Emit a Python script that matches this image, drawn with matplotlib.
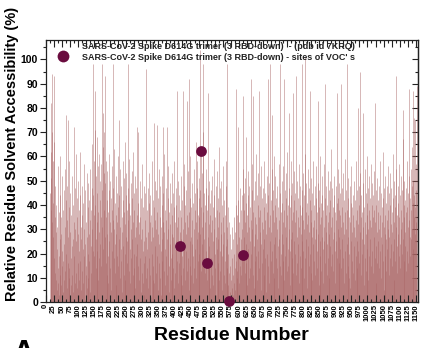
import matplotlib
matplotlib.use("Agg")           # headless
import matplotlib.pyplot as plt
from matplotlib.ticker import MultipleLocator
import numpy as np

# relative residue solvent accessibility (%), in residue blocks
rsa_014_313 = [
    45, 62, 38, 82, 51, 70, 94, 33, 58, 27, 41, 66, 93, 18, 35, 12, 48, 29, 9, 40,
    22, 5, 31, 14, 56, 8, 37, 19, 3, 44, 26, 11, 60, 35, 7, 28, 15, 52, 21, 4,
    38, 17, 46, 9, 24, 55, 31, 13, 42, 77, 20, 6, 34, 48, 16, 75, 27, 10, 39, 58,
    14, 2, 29, 45, 18, 36, 7, 52, 23, 11, 40, 26, 4, 33, 72, 19, 47, 8, 30, 61,
    12, 25, 43, 6, 35, 16, 28, 50, 3, 21, 38, 9, 44, 62, 17, 31, 5, 26, 48, 13,
    36, 22, 8, 41, 57, 19, 30, 1, 24, 46, 11, 33, 15, 53, 27, 6, 39, 20, 49, 10,
    28, 42, 17, 34, 4, 55, 23, 38, 12, 47, 30, 65, 21, 98, 44, 58, 36, 19, 71, 87,
    40, 26, 52, 14, 33, 68, 21, 45, 9, 37, 56, 18, 29, 61, 42, 24, 50, 35, 15, 57,
    46, 98, 31, 64, 78, 22, 53, 38, 70, 27, 93, 49, 16, 35, 58, 11, 42, 28, 54, 19,
    37, 8, 46, 25, 61, 33, 14, 50, 29, 43, 5, 38, 21, 56, 34, 98, 47, 18, 30, 63,
    24, 41, 12, 36, 52, 7, 28, 45, 19, 33, 60, 15, 39, 26, 75, 44, 10, 31, 55, 22,
    48, 17, 35, 4, 29, 58, 23, 42, 11, 37, 51, 20, 66, 32, 9, 44, 27, 53, 16, 38,
    25, 47, 98, 34, 13, 41, 59, 22, 36, 8, 49, 30, 18, 54, 26, 43, 11, 62, 33, 20,
    45, 14, 38, 27, 52, 6, 31, 47, 19, 72, 36, 24, 41, 70, 15, 33, 9, 28, 50, 18,
    35, 4, 26, 43, 12, 30, 57, 21, 8, 39, 16, 48, 25, 3, 34, 19, 45, 96, 27, 10,
]
rsa_314_613 = [
    22, 38, 14, 47, 29, 6, 41, 18, 53, 33, 11, 44, 25, 2, 36, 58, 20, 31, 9, 42,
    27, 15, 74, 39, 8, 50, 23, 34, 12, 46, 30, 19, 73, 37, 5, 28, 43, 16, 55, 24,
    10, 35, 48, 21, 31, 3, 40, 26, 52, 17, 72, 33, 45, 13, 29, 61, 22, 38, 7, 47,
    19, 34, 72, 26, 11, 43, 30, 56, 15, 37, 4, 24, 49, 32, 18, 41, 9, 28, 53, 20,
    36, 14, 45, 27, 6, 39, 58, 22, 33, 12, 47, 25, 40, 17, 87, 31, 50, 8, 35, 21,
    44, 16, 29, 23, 38, 11, 52, 26, 35, 7, 42, 19, 87, 30, 14, 48, 24, 57, 33, 9,
    40, 21, 46, 28, 83, 13, 36, 54, 18, 31, 5, 92, 37, 25, 43, 15, 60, 27, 11, 39,
    24, 49, 34, 8, 41, 19, 55, 30, 14, 38, 45, 22, 66, 33, 10, 47, 26, 58, 17, 36,
    29, 51, 20, 43, 35, 104, 28, 46, 13, 39, 62, 24, 53, 31, 70, 98, 37, 18, 45, 26,
    12, 40, 33, 55, 21, 47, 9, 16, 38, 27, 86, 44, 15, 32, 50, 23, 36, 6, 41, 29,
    18, 46, 34, 11, 52, 25, 39, 7, 44, 30, 59, 20, 35, 14, 48, 27, 3, 38, 22, 54,
    31, 16, 43, 26, 9, 37, 64, 21, 47, 13, 33, 50, 28, 5, 40, 19, 56, 35, 24, 11,
    42, 29, 17, 36, 8, 48, 23, 58, 31, 98, 26, 14, 39, 20, 7, 33, 1, 12, 28, 4,
    15, 2, 22, 9, 31, 6, 18, 3, 26, 11, 35, 8, 20, 14, 29, 5, 40, 88, 17, 10,
    24, 13, 36, 72, 19, 42, 27, 8, 33, 21, 47, 15, 38, 26, 11, 44, 30, 18, 55, 85,
]
rsa_614_913 = [
    20, 38, 27, 45, 12, 33, 51, 24, 68, 16, 41, 29, 7, 36, 54, 22, 44, 10, 31, 48,
    25, 39, 14, 92, 34, 20, 46, 30, 57, 11, 85, 37, 23, 42, 6, 50, 28, 35, 17, 61,
    32, 19, 44, 26, 9, 40, 53, 21, 87, 35, 14, 48, 29, 38, 5, 56, 24, 43, 16, 33,
    47, 22, 30, 11, 39, 58, 26, 45, 18, 34, 4, 41, 28, 52, 20, 37, 92, 15, 44, 31,
    8, 49, 25, 98, 36, 17, 42, 29, 55, 77, 21, 38, 12, 46, 33, 60, 24, 10, 40, 27,
    52, 18, 35, 43, 14, 30, 48, 23, 6, 39, 57, 26, 34, 15, 98, 45, 20, 37, 11, 50,
    28, 41, 17, 33, 56, 24, 92, 38, 9, 46, 31, 19, 53, 27, 43, 13, 36, 62, 22, 40,
    15, 47, 78, 30, 21, 39, 7, 44, 26, 58, 34, 18, 49, 29, 86, 37, 12, 42, 25, 54,
    33, 20, 45, 11, 93, 38, 27, 50, 16, 35, 43, 24, 8, 57, 31, 40, 19, 48, 28, 36,
    14, 46, 98, 25, 39, 53, 21, 34, 10, 44, 30, 61, 101, 18, 37, 26, 49, 6, 41, 32,
    55, 23, 36, 15, 47, 29, 42, 87, 20, 33, 51, 12, 38, 27, 45, 9, 31, 58, 24, 40,
    17, 34, 48, 26, 11, 43, 30, 56, 21, 37, 14, 49, 83, 28, 39, 7, 46, 25, 60, 32,
    19, 41, 35, 13, 52, 27, 44, 22, 8, 38, 31, 57, 25, 43, 90, 16, 36, 48, 29, 11,
    40, 24, 54, 33, 18, 46, 28, 37, 10, 50, 23, 42, 31, 15, 63, 35, 20, 47, 26, 39,
    13, 44, 29, 52, 21, 37, 8, 48, 34, 25, 41, 86, 18, 55, 30, 43, 16, 38, 27, 49,
]
rsa_914_1153 = [
    22, 36, 45, 90, 31, 14, 47, 26, 39, 53, 18, 33, 8, 42, 28, 59, 21, 37, 12, 46,
    30, 24, 98, 38, 15, 51, 27, 43, 10, 35, 20, 48, 33, 6, 41, 25, 56, 17, 39, 29,
    44, 12, 36, 23, 50, 31, 9, 42, 27, 58, 19, 34, 46, 14, 38, 25, 80, 32, 21, 48,
    16, 40, 95, 29, 53, 35, 11, 44, 26, 37, 20, 78, 31, 49, 7, 39, 24, 55, 33, 18,
    45, 28, 13, 41, 36, 60, 22, 47, 30, 9, 38, 52, 19, 34, 26, 43, 15, 57, 31, 40,
    21, 49, 35, 12, 44, 27, 38, 54, 18, 82, 33, 46, 23, 8, 40, 29, 51, 16, 37, 25,
    42, 30, 14, 48, 36, 21, 58, 27, 45, 10, 33, 39, 24, 62, 17, 43, 31, 5, 47, 28,
    36, 19, 52, 26, 41, 13, 34, 48, 22, 38, 56, 30, 11, 45, 27, 40, 18, 53, 32, 24,
    47, 15, 37, 29, 61, 21, 43, 33, 9, 50, 26, 39, 17, 44, 93, 31, 55, 23, 36, 12,
    41, 28, 48, 19, 35, 57, 24, 44, 14, 38, 30, 52, 20, 46, 33, 67, 79, 26, 40, 17,
    35, 50, 23, 42, 29, 13, 47, 37, 58, 21, 39, 31, 45, 16, 88, 34, 52, 27, 43, 19,
    38, 55, 26, 48, 30, 64, 41, 87, 22, 50, 35, 76, 44, 28, 75, 39, 57, 33, 46, 89,
]
block_starts = [14, 314, 614, 914]

# variant-of-concern sites (dots)
voc_sites = [417, 484, 501, 570, 614]
voc_rsa = [23.2, 62.1, 15.9, 0.3, 19.6]

legend_labels = [
    "SARS-CoV-2 Spike D614G trimer (3 RBD-down)  - (pdb id 7KRQ)",
    "SARS-CoV-2 Spike D614G trimer (3 RBD-down) - sites of VOC' s",
]

BAR = "#a96464"
DOT = "#6a0c3f"

plt.rcParams["font.family"] = ["Liberation Sans", "DejaVu Sans"]
plt.rcParams["font.weight"] = "bold"

blocks = [rsa_014_313, rsa_314_613, rsa_614_913, rsa_914_1153]
res = np.concatenate([np.arange(s, s + len(b)) for s, b in zip(block_starts, blocks)])
rsa = np.concatenate([np.asarray(b, float) for b in blocks])

fig = plt.figure(figsize=(4.25, 3.48), dpi=100)
ax = fig.add_axes([0.1075, 0.132, 0.876, 0.753])

# one thin line per residue so that every bar shows at this resolution
ax.vlines(res, 0, rsa, color=BAR, linewidth=0.5, alpha=0.65, zorder=1)
ax.scatter(voc_sites, voc_rsa, s=60, color=DOT, zorder=4, clip_on=False, linewidths=0)

ax.set_xlim(0, 1157)
ax.set_ylim(0, 108)

ax.xaxis.set_major_locator(MultipleLocator(25))
ax.xaxis.set_minor_locator(MultipleLocator(12.5))
ax.yaxis.set_major_locator(MultipleLocator(10))
ax.yaxis.set_minor_locator(MultipleLocator(5))
ax.set_yticks(range(0, 101, 10))

ax.tick_params(axis="x", which="both", direction="in", top=True, bottom=True,
               color="#222222", width=0.8, labelsize=5.5, labelrotation=90, pad=1.5)
ax.tick_params(axis="x", which="major", length=5)
ax.tick_params(axis="x", which="minor", length=2.5)
ax.tick_params(axis="y", which="both", direction="out", color="#222222", width=0.8,
               labelsize=7.5, pad=1.5)
ax.tick_params(axis="y", which="major", length=4)
ax.tick_params(axis="y", which="minor", length=2)
right = ax.secondary_yaxis("right")
right.yaxis.set_major_locator(MultipleLocator(10))
right.yaxis.set_minor_locator(MultipleLocator(5))
right.tick_params(which="both", direction="in", labelright=False, color="#222222", width=0.8)
right.tick_params(which="major", length=4)
right.tick_params(which="minor", length=2)

for sp in list(ax.spines.values()) + [right.spines["right"]]:
    sp.set_linewidth(0.9)
    sp.set_color("#222222")

# legend, drawn by hand in axes coordinates
ax.plot([0.047], [0.939], "o", color=DOT, markersize=8.5, markeredgewidth=0,
        transform=ax.transAxes, zorder=5)
ax.text(0.0976, 0.977, legend_labels[0], transform=ax.transAxes, fontsize=6.5,
        va="center", ha="left", color="#222222")
ax.text(0.0976, 0.935, legend_labels[1], transform=ax.transAxes, fontsize=6.5,
        va="center", ha="left", color="#222222")

ax.set_ylabel("Relative Residue Solvent Accessibility (%)", fontsize=10.5,
              fontweight="bold")
ax.yaxis.set_label_coords(-0.072, 0.565)
ax.set_xlabel("Residue Number", fontsize=14, fontweight="bold", labelpad=4)
fig.text(0.055, 0.025, "A", fontsize=22, fontweight="bold", ha="center", va="top")

fig.savefig("out.png", dpi=100)
